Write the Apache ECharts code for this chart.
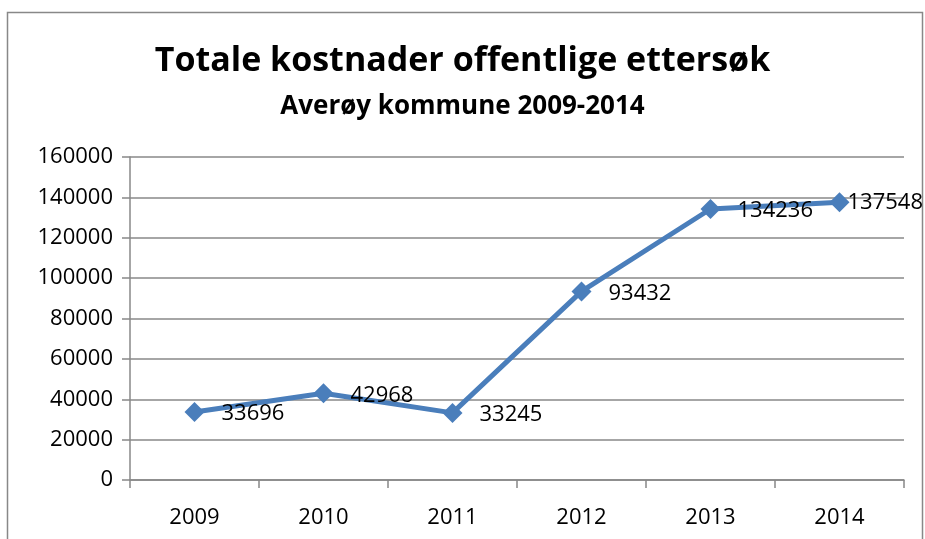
<!DOCTYPE html>
<html>
<head>
<meta charset="utf-8">
<script src="https://cdn.jsdelivr.net/npm/echarts@6/dist/echarts.min.js"></script>
<style>
  html, body { margin: 0; padding: 0; background: #fff; }
  #chart { width: 925px; height: 539px; }
</style>
</head>
<body>
<div id="chart"></div>
<script>
const years = ["2009", "2010", "2011", "2012", "2013", "2014"]
const costs = [33696, 42968, 33245, 93432, 134236, 137548]
const yMin = 0
const yMax = 160000
const yStep = 20000

const font = "'Open Sans', sans-serif"
const chart = echarts.init(document.getElementById("chart"))

// last label gets pulled left like in the original (it sits at the edge)
const points = costs.map((v, i) => i === costs.length - 1
  ? { value: v, label: { offset: [-19, 0] } }
  : v)

chart.setOption({
  backgroundColor: "#fff",
  animation: false,
  title: [
    {
      text: "Totale kostnader offentlige ettersøk",
      left: "center",
      top: 44,
      padding: [0, 0, 0, 18],
      textStyle: { fontFamily: font, fontSize: 34, fontWeight: "bold", color: "#000" }
    },
    {
      text: "Averøy kommune 2009-2014",
      left: "center",
      top: 94,
      padding: [0, 0, 0, 18],
      textStyle: { fontFamily: font, fontSize: 26, fontWeight: "bold", color: "#000" }
    }
  ],
  graphic: [{
    type: "rect",
    shape: { x: 7.5, y: 12.5, width: 915, height: 540 },
    style: { fill: null, stroke: "#888", lineWidth: 1.5 },
    silent: true
  }],
  grid: { left: 130, right: 21, top: 157, bottom: 59 },
  xAxis: {
    type: "category",
    data: years,
    boundaryGap: true,
    axisLine: { lineStyle: { color: "#888", width: 1.5 } },
    axisTick: { show: true, length: 8, lineStyle: { color: "#888", width: 1.5 } },
    axisLabel: { color: "#000", fontFamily: font, fontSize: 22, margin: 27 }
  },
  yAxis: {
    type: "value",
    min: yMin,
    max: yMax,
    interval: yStep,
    axisLine: { show: true, lineStyle: { color: "#888", width: 1.5 } },
    axisTick: { show: true, length: 8, lineStyle: { color: "#888", width: 1.5 } },
    axisLabel: { color: "#000", fontFamily: font, fontSize: 22, margin: 17, formatter: v => String(v) },
    splitLine: { lineStyle: { color: "#888", width: 1.5 } }
  },
  series: [{
    type: "line",
    data: points,
    symbol: "diamond",
    symbolSize: 20,
    lineStyle: { color: "#4a7ebb", width: 5 },
    itemStyle: { color: "#4a7ebb" },
    label: {
      show: true,
      position: "right",
      distance: 17,
      offset: [0, 2],
      color: "#000",
      fontFamily: font,
      fontSize: 22
    }
  }]
})
</script>
</body>
</html>
